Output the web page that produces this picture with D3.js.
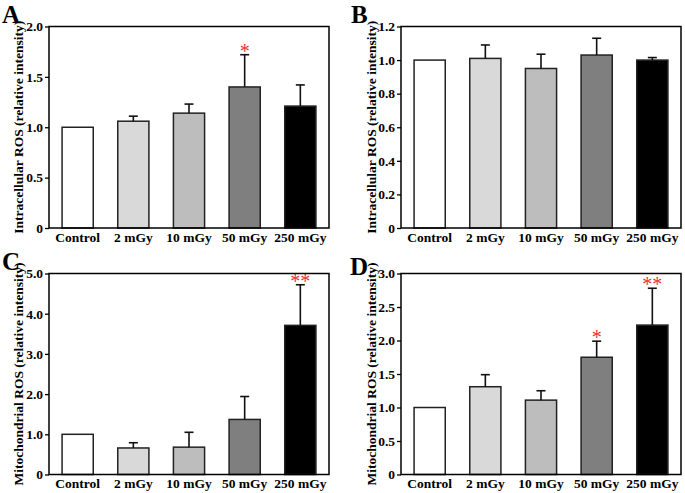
<!DOCTYPE html>
<html>
<head>
<meta charset="utf-8">
<script src="https://cdn.jsdelivr.net/npm/d3@7"></script>
<style>
  body { margin: 0; background: #fff; }
  svg text { font-family: "Liberation Serif", "Times New Roman", serif; font-weight: bold; }
</style>
</head>
<body>
<div id="chart"></div>
<script>
// groups on the x axis
const categories = ["Control", "2 mGy", "10 mGy", "50 mGy", "250 mGy"];

// panel A: intracellular ROS
const intraA = [1.0, 1.06, 1.14, 1.40, 1.21];
const errA = [0, 0.05, 0.09, 0.32, 0.21];
const sigA = ["", "", "", "*", ""];
const ticksA = [0, 0.5, 1.0, 1.5, 2.0];

// panel B: intracellular ROS
const intraB = [1.0, 1.01, 0.95, 1.03, 1.0];
const errB = [0, 0.08, 0.085, 0.10, 0.015];
const sigB = ["", "", "", "", ""];
const ticksB = [0, 0.2, 0.4, 0.6, 0.8, 1.0, 1.2];

// panel C: mitochondrial ROS
const mitoC = [1.0, 0.66, 0.68, 1.37, 3.71];
const errC = [0, 0.13, 0.37, 0.57, 1.01];
const sigC = ["", "", "", "", "**"];
const ticksC = [0, 1.0, 2.0, 3.0, 4.0, 5.0];

// panel D: mitochondrial ROS
const mitoD = [1.0, 1.31, 1.11, 1.75, 2.23];
const errD = [0, 0.18, 0.14, 0.24, 0.55];
const sigD = ["", "", "", "*", "**"];
const ticksD = [0, 0.5, 1.0, 1.5, 2.0, 2.5, 3.0];

const W = 685, H = 493;
const svg = d3.select("#chart").append("svg")
    .attr("width", W)
    .attr("height", H);

const fill = d3.scaleOrdinal()
    .domain(categories)
    .range(["#ffffff", "#d9d9d9", "#bdbdbd", "#7f7f7f", "#000000"]);

const fontSize = "13.5px";

function panel(opt) {
    const x = d3.scaleBand()
        .domain(categories)
        .range([opt.left, opt.right])
        .paddingInner(0.44)
        .paddingOuter(0.235);

    const y = d3.scaleLinear()
        .domain([0, d3.max(opt.ticks)])
        .range([opt.bottom, opt.top]);

    const data = categories.map((c, i) => ({
        name: c, value: opt.values[i], err: opt.errs[i], sig: opt.sig[i]
    }));

    const g = svg.append("g");

    // bars
    g.selectAll(".bar")
        .data(data)
        .enter().append("rect")
        .attr("class", "bar")
        .attr("x", d => x(d.name))
        .attr("y", d => y(d.value))
        .attr("width", x.bandwidth())
        .attr("height", d => y(0) - y(d.value))
        .attr("fill", d => fill(d.name))
        .attr("stroke", "#222")
        .attr("stroke-width", 1.5);

    // error bars (upper only)
    const eb = g.selectAll(".err")
        .data(data.filter(d => d.err > 0))
        .enter().append("g")
        .attr("class", "err")
        .attr("stroke", "#111")
        .attr("stroke-width", 1.6);
    eb.append("line")
        .attr("x1", d => x(d.name) + x.bandwidth() / 2)
        .attr("x2", d => x(d.name) + x.bandwidth() / 2)
        .attr("y1", d => y(d.value))
        .attr("y2", d => y(d.value + d.err));
    eb.append("line")
        .attr("x1", d => x(d.name) + x.bandwidth() / 2 - 4.5)
        .attr("x2", d => x(d.name) + x.bandwidth() / 2 + 4.5)
        .attr("y1", d => y(d.value + d.err))
        .attr("y2", d => y(d.value + d.err));

    // significance stars
    g.selectAll(".sig")
        .data(data.filter(d => d.sig))
        .enter().append("text")
        .attr("class", "sig")
        .attr("x", d => x(d.name) + x.bandwidth() / 2)
        .attr("y", d => y(d.value + d.err) + 3)
        .attr("text-anchor", "middle")
        .attr("fill", "#e8302f")
        .style("font-size", "20px")
        .style("font-weight", "normal")
        .text(d => d.sig);

    // frame
    g.append("rect")
        .attr("x", opt.left)
        .attr("y", opt.top)
        .attr("width", opt.right - opt.left)
        .attr("height", opt.bottom - opt.top)
        .attr("fill", "none")
        .attr("stroke", "#000")
        .attr("stroke-width", 1.5);

    // y axis
    const ya = g.append("g")
        .attr("transform", "translate(" + opt.left + ",0)")
        .call(d3.axisLeft(y)
            .tickValues(opt.ticks)
            .tickSize(4)
            .tickPadding(2)
            .tickFormat(v => v === 0 ? "0" : d3.format(".1f")(v)));
    ya.select(".domain").remove();
    ya.selectAll(".tick line").attr("stroke", "#000").attr("stroke-width", 1.3);
    ya.selectAll("text")
        .attr("fill", "#000")
        .style("font-size", fontSize)
        .style("font-family", "'Liberation Serif', 'Times New Roman', serif");

    // x labels
    const xa = g.append("g")
        .attr("transform", "translate(0," + opt.bottom + ")")
        .call(d3.axisBottom(x).tickSize(0).tickPadding(4));
    xa.select(".domain").remove();
    xa.selectAll("text")
        .attr("fill", "#000")
        .style("font-size", fontSize)
        .style("font-family", "'Liberation Serif', 'Times New Roman', serif");

    // y label
    g.append("text")
        .attr("transform", "translate(" + opt.labelX + "," + ((opt.top + opt.bottom) / 2) + ") rotate(-90)")
        .attr("text-anchor", "middle")
        .style("font-size", fontSize)
        .text(opt.ylabel);

    // panel letter
    g.append("text")
        .attr("x", opt.letterX)
        .attr("y", opt.letterY)
        .style("font-size", "25px")
        .text(opt.letter);
}

panel({letter: "A", letterX: 2, letterY: 22.5, left: 49, right: 329, top: 26.5, bottom: 228,
    values: intraA, errs: errA, sig: sigA, ticks: ticksA, labelX: 23,
    ylabel: "Intracellular ROS (relative intensity)"});
panel({letter: "B", letterX: 351, letterY: 22.5, left: 401, right: 681, top: 26.5, bottom: 228,
    values: intraB, errs: errB, sig: sigB, ticks: ticksB, labelX: 376,
    ylabel: "Intracellular ROS (relative intensity)"});
panel({letter: "C", letterX: 2, letterY: 270, left: 49, right: 329, top: 273.5, bottom: 474.5,
    values: mitoC, errs: errC, sig: sigC, ticks: ticksC, labelX: 23,
    ylabel: "Mitochondrial ROS (relative intensity)"});
panel({letter: "D", letterX: 350, letterY: 275, left: 401, right: 681, top: 273.5, bottom: 474.5,
    values: mitoD, errs: errD, sig: sigD, ticks: ticksD, labelX: 376,
    ylabel: "Mitochondrial ROS (relative intensity)"});
</script>
</body>
</html>
